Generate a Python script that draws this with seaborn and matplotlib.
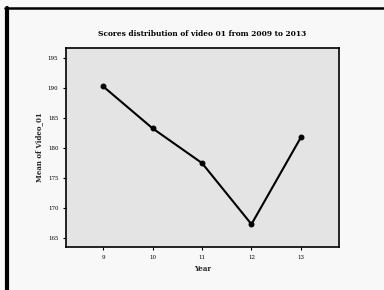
import seaborn as sns
import matplotlib.pyplot as plt
import pandas as pd
from matplotlib.lines import Line2D

years = [9, 10, 11, 12, 13]
mean_scores = [190.3, 183.3, 177.5, 167.3, 181.8]
y_ticks = [165, 170, 175, 180, 185, 190, 195]

df = pd.DataFrame({"Year": years, "Mean of Video_01": mean_scores})

sns.set_theme(style="ticks")
plt.rcParams["font.family"] = ["DejaVu Serif"]

fig = plt.figure(figsize=(3.84, 2.9), dpi=100, facecolor="#f8f8f8")
ax = fig.add_axes([66 / 384, 43 / 290, 273 / 384, 199 / 290])
ax.set_facecolor("#e4e4e4")

sns.lineplot(data=df, x="Year", y="Mean of Video_01", ax=ax,
             color="black", marker="o", markersize=3.5, linewidth=1.5,
             markeredgecolor="black")

ax.set_xlim(8.25, 13.77)
ax.set_ylim(163.5, 196.7)
ax.set_xticks(years)
ax.set_yticks(y_ticks)
ax.tick_params(labelsize=4, length=2, width=0.8, colors="black")
ax.set_xlabel("Year", fontsize=5, fontweight="bold", labelpad=4)
ax.set_ylabel("Mean of Video_01", fontsize=5, fontweight="bold", labelpad=3)
ax.set_title("Scores distribution of video 01 from 2009 to 2013",
             fontsize=5.4, fontweight="bold", color="black", pad=9)
for s in ax.spines.values():
    s.set_linewidth(1.2)
    s.set_color("black")

# scanned frame: thick left and top edges only
fig.add_artist(Line2D([7 / 384, 7 / 384], [0, 282 / 290], transform=fig.transFigure,
                      color="black", linewidth=3))
fig.add_artist(Line2D([5 / 384, 1], [282 / 290, 282 / 290], transform=fig.transFigure,
                      color="black", linewidth=1.8))

fig.savefig("out.png", dpi=100, facecolor=fig.get_facecolor())
